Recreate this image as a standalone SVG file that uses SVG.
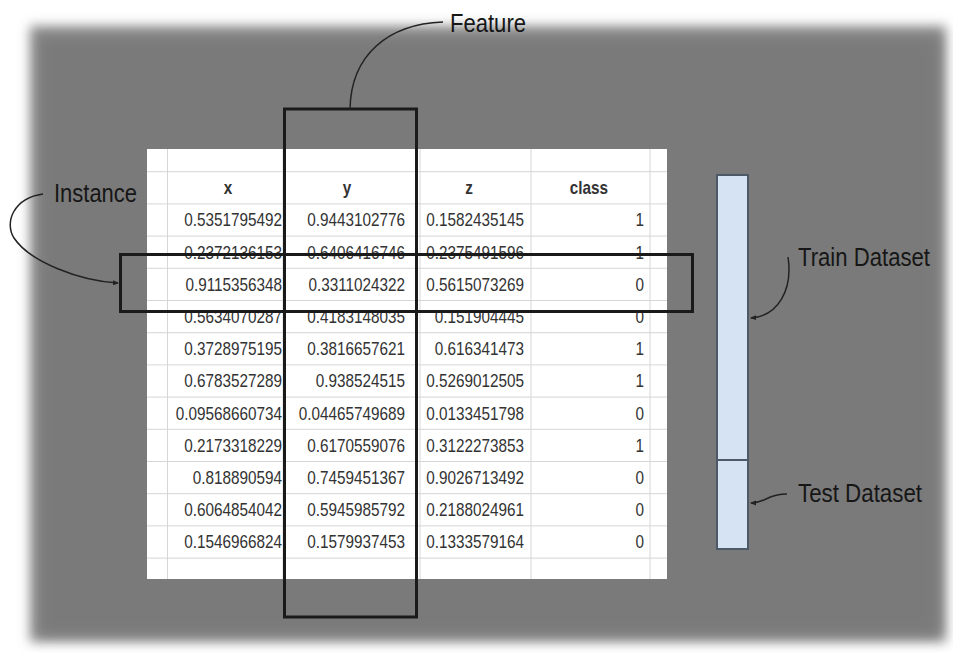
<svg xmlns="http://www.w3.org/2000/svg" width="953" height="653" viewBox="0 0 953 653">
<style>
.cell{font-family:"Liberation Sans",Arial,sans-serif;font-size:18px;fill:#333;text-anchor:end}
.hdr{font-family:"Liberation Sans",Arial,sans-serif;font-size:18px;fill:#333;font-weight:bold;text-anchor:middle}
.lbl{font-family:"Liberation Sans",Arial,sans-serif;font-size:25px;fill:#161616}
.grid{stroke:#d6d6d6;stroke-width:1;fill:none}
.sel{fill:none;stroke:#1a1a1a;stroke-width:3}
.conn{fill:none;stroke:#222;stroke-width:1.5}
.bar{fill:#d5e3f2;stroke:#4d5966;stroke-width:2}
</style>
<defs>
<filter id="soft" x="-5%" y="-5%" width="110%" height="110%"><feGaussianBlur stdDeviation="6"/></filter>
<marker id="ah" markerWidth="6" markerHeight="6" refX="5" refY="3" orient="auto" markerUnits="userSpaceOnUse"><path d="M0,0.5 L6,3 L0,5.5 Z" fill="#222"/></marker>
</defs>
<rect width="953" height="653" fill="#ffffff"/>
<g id="panel">
<rect x="30" y="26" width="916" height="616" fill="#8a8a8a" filter="url(#soft)"/>
<rect x="40" y="37" width="899" height="597" fill="#7a7a7a" filter="url(#soft)"/>
</g>
<g id="table">
<rect x="147" y="149" width="520" height="430" fill="#ffffff"/>
<g class="grid">
<line x1="167.5" y1="149" x2="167.5" y2="579"/>
<line x1="283" y1="149" x2="283" y2="579"/>
<line x1="420" y1="149" x2="420" y2="579"/>
<line x1="531" y1="149" x2="531" y2="579"/>
<line x1="650" y1="149" x2="650" y2="579"/>
<line x1="147" y1="171.7" x2="667" y2="171.7"/>
<line x1="147" y1="203.9" x2="667" y2="203.9"/>
<line x1="147" y1="236.1" x2="667" y2="236.1"/>
<line x1="147" y1="268.3" x2="667" y2="268.3"/>
<line x1="147" y1="300.5" x2="667" y2="300.5"/>
<line x1="147" y1="332.7" x2="667" y2="332.7"/>
<line x1="147" y1="364.9" x2="667" y2="364.9"/>
<line x1="147" y1="397.1" x2="667" y2="397.1"/>
<line x1="147" y1="429.3" x2="667" y2="429.3"/>
<line x1="147" y1="461.5" x2="667" y2="461.5"/>
<line x1="147" y1="493.7" x2="667" y2="493.7"/>
<line x1="147" y1="525.9" x2="667" y2="525.9"/>
<line x1="147" y1="558.1" x2="667" y2="558.1"/>
</g>
<g transform="scale(0.85,1)">
<text class="hdr" x="268.2" y="194.2">x</text>
<text class="hdr" x="408.2" y="194.2">y</text>
<text class="hdr" x="551.8" y="194.2">z</text>
<text class="hdr" x="692.9" y="194.2">class</text>
<text class="cell" x="331.8" y="226.4">0.5351795492</text><text class="cell" x="476.5" y="226.4">0.9443102776</text><text class="cell" x="616.5" y="226.4">0.1582435145</text><text class="cell" x="757.6" y="226.4">1</text>
<text class="cell" x="331.8" y="258.6">0.2372136153</text><text class="cell" x="476.5" y="258.6">0.6406416746</text><text class="cell" x="616.5" y="258.6">0.2375491596</text><text class="cell" x="757.6" y="258.6">1</text>
<text class="cell" x="331.8" y="290.8">0.9115356348</text><text class="cell" x="476.5" y="290.8">0.3311024322</text><text class="cell" x="616.5" y="290.8">0.5615073269</text><text class="cell" x="757.6" y="290.8">0</text>
<text class="cell" x="331.8" y="323.0">0.5634070287</text><text class="cell" x="476.5" y="323.0">0.4183148035</text><text class="cell" x="616.5" y="323.0">0.151904445</text><text class="cell" x="757.6" y="323.0">0</text>
<text class="cell" x="331.8" y="355.2">0.3728975195</text><text class="cell" x="476.5" y="355.2">0.3816657621</text><text class="cell" x="616.5" y="355.2">0.616341473</text><text class="cell" x="757.6" y="355.2">1</text>
<text class="cell" x="331.8" y="387.4">0.6783527289</text><text class="cell" x="476.5" y="387.4">0.938524515</text><text class="cell" x="616.5" y="387.4">0.5269012505</text><text class="cell" x="757.6" y="387.4">1</text>
<text class="cell" x="331.8" y="419.6">0.09568660734</text><text class="cell" x="476.5" y="419.6">0.04465749689</text><text class="cell" x="616.5" y="419.6">0.0133451798</text><text class="cell" x="757.6" y="419.6">0</text>
<text class="cell" x="331.8" y="451.8">0.2173318229</text><text class="cell" x="476.5" y="451.8">0.6170559076</text><text class="cell" x="616.5" y="451.8">0.3122273853</text><text class="cell" x="757.6" y="451.8">1</text>
<text class="cell" x="331.8" y="484.0">0.818890594</text><text class="cell" x="476.5" y="484.0">0.7459451367</text><text class="cell" x="616.5" y="484.0">0.9026713492</text><text class="cell" x="757.6" y="484.0">0</text>
<text class="cell" x="331.8" y="516.2">0.6064854042</text><text class="cell" x="476.5" y="516.2">0.5945985792</text><text class="cell" x="616.5" y="516.2">0.2188024961</text><text class="cell" x="757.6" y="516.2">0</text>
<text class="cell" x="331.8" y="548.4">0.1546966824</text><text class="cell" x="476.5" y="548.4">0.1579937453</text><text class="cell" x="616.5" y="548.4">0.1333579164</text><text class="cell" x="757.6" y="548.4">0</text>
</g>
</g>
<g id="feature"><rect class="sel" x="284.5" y="109" width="132" height="508"/><text class="lbl" x="450" y="32" textLength="76" lengthAdjust="spacingAndGlyphs">Feature</text></g>
<g id="instance"><rect class="sel" x="120.5" y="254.5" width="572" height="57"/><text class="lbl" x="54" y="202" textLength="83" lengthAdjust="spacingAndGlyphs">Instance</text></g>
<g id="dataset">
<rect class="bar" x="717" y="175" width="31" height="374"/>
<line x1="717" y1="460" x2="748" y2="460" stroke="#4d5966" stroke-width="2"/>
<text class="lbl" x="798" y="266" textLength="132" lengthAdjust="spacingAndGlyphs">Train Dataset</text>
<text class="lbl" x="798" y="502" textLength="124" lengthAdjust="spacingAndGlyphs">Test Dataset</text>
</g>
<g id="connectors">
<path class="conn" d="M350,109 C351,55 388,24 443,22"/>
<path class="conn" marker-end="url(#ah)" d="M43,194 C14,198 4,222 14,238 C30,262 80,281 118,283"/>
<path class="conn" marker-end="url(#ah)" d="M788,257 C793,290 778,316 751,318"/>
<path class="conn" marker-end="url(#ah)" d="M787,494 C778,494 772,496 766,499 C760,502 756,503 751,503"/>
</g>
</svg>
